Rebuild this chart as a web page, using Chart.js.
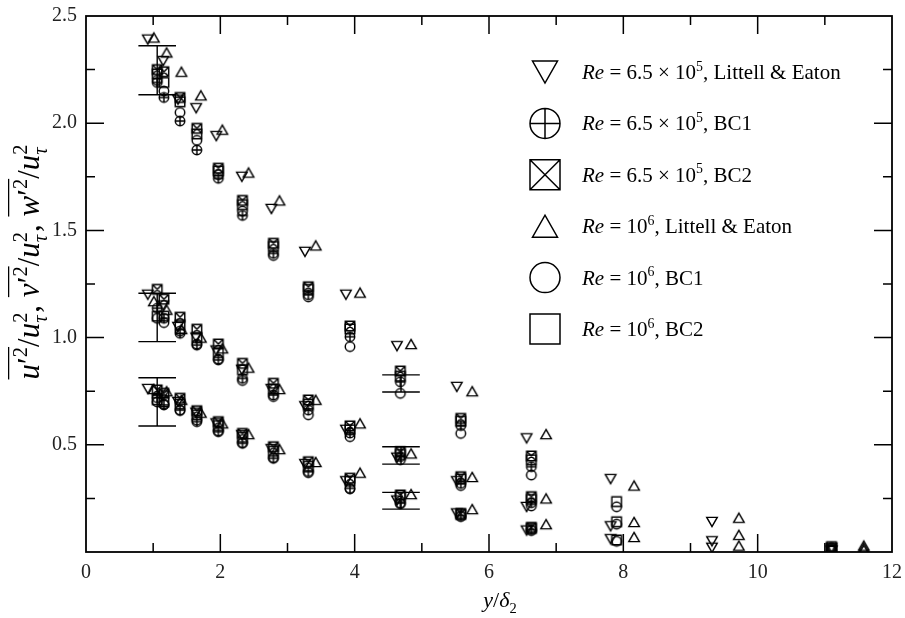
<!DOCTYPE html>
<html>
<head>
<meta charset="utf-8">
<script src="https://cdn.jsdelivr.net/npm/chart.js@4"></script>
<style>
  body { margin: 0; background: #fff; }
  #wrap { width: 905px; height: 618px; }
</style>
</head>
<body>
<div id="wrap"><canvas id="chart"></canvas></div>
<script>
// Littell & Eaton, Re = 6.5e5 (down triangles)
const xLE65 = [0.92, 1.15, 1.37, 1.64, 1.94, 2.32, 2.76, 3.26, 3.87, 4.63, 5.52, 6.56, 7.81, 9.32, 11.10];
const uLE65 = [2.39, 2.29, 2.11, 2.07, 1.94, 1.75, 1.60, 1.40, 1.20, 0.96, 0.77, 0.53, 0.34, 0.14, 0.02];
const vLE65 = [1.20, 1.15, 1.05, 1.00, 0.94, 0.85, 0.76, 0.68, 0.57, 0.44, 0.33, 0.21, 0.12, 0.05, 0.01];
const wLE65 = [0.76, 0.73, 0.70, 0.65, 0.60, 0.545, 0.48, 0.41, 0.33, 0.24, 0.18, 0.10, 0.06, 0.02, 0.005];

// Littell & Eaton, Re = 1e6 (up triangles)
const xLE10 = [1.01, 1.20, 1.42, 1.71, 2.03, 2.42, 2.88, 3.42, 4.08, 4.84, 5.75, 6.85, 8.16, 9.72, 11.58];
const uLE10 = [2.40, 2.33, 2.24, 2.13, 1.97, 1.77, 1.64, 1.43, 1.21, 0.97, 0.75, 0.55, 0.31, 0.16, 0.03];
const vLE10 = [1.17, 1.13, 1.04, 1.00, 0.95, 0.86, 0.76, 0.71, 0.60, 0.46, 0.35, 0.25, 0.14, 0.08, 0.02];
const wLE10 = [0.76, 0.75, 0.71, 0.65, 0.60, 0.55, 0.48, 0.42, 0.37, 0.27, 0.20, 0.13, 0.07, 0.03, 0.01];

// BC runs, Re = 6.5e5
const xBC65 = [1.06, 1.16, 1.40, 1.65, 1.97, 2.33, 2.79, 3.31, 3.93, 4.68, 5.58, 6.63];
const uBC1_65 = [2.19, 2.12, 2.01, 1.875, 1.743, 1.57, 1.393, 1.20, 1.004, 0.794, 0.59, 0.398];
const vBC1_65 = [1.137, 1.09, 1.02, 0.965, 0.896, 0.81, 0.732, 0.662, 0.555, 0.445, 0.32, 0.23];
const wBC1_65 = [0.72, 0.686, 0.662, 0.608, 0.561, 0.507, 0.437, 0.375, 0.297, 0.228, 0.17, 0.105];
const uBC2_65 = [2.25, 2.24, 2.12, 1.976, 1.79, 1.64, 1.44, 1.237, 1.054, 0.844, 0.623, 0.448];
const vBC2_65 = [1.225, 1.179, 1.095, 1.039, 0.970, 0.88, 0.787, 0.709, 0.588, 0.468, 0.351, 0.258];
const wBC2_65 = [0.756, 0.74, 0.717, 0.659, 0.608, 0.553, 0.491, 0.421, 0.344, 0.266, 0.18, 0.115];

// BC runs, Re = 1e6
const xBC10 = [1.06, 1.16, 1.40, 1.65, 1.97, 2.33, 2.79, 3.31, 3.93, 4.68, 5.58, 6.63, 7.90, 11.10];
const uBC1_10 = [2.20, 2.15, 2.05, 1.92, 1.76, 1.59, 1.383, 1.19, 0.958, 0.74, 0.553, 0.359, 0.211, 0.02];
const vBC1_10 = [1.09, 1.07, 1.03, 0.97, 0.90, 0.80, 0.725, 0.64, 0.538, 0.43, 0.31, 0.215, 0.13, 0.01];
const wBC1_10 = [0.70, 0.69, 0.66, 0.615, 0.565, 0.51, 0.44, 0.37, 0.295, 0.225, 0.165, 0.10, 0.05, 0.005];
const uBC2_10 = [2.23, 2.19, 2.10, 1.95, 1.777, 1.62, 1.425, 1.225, 1.04, 0.82, 0.61, 0.43, 0.235, 0.025];
const vBC2_10 = [1.10, 1.10, 1.06, 1.00, 0.93, 0.85, 0.76, 0.69, 0.57, 0.455, 0.34, 0.245, 0.141, 0.015];
const wBC2_10 = [0.71, 0.70, 0.69, 0.64, 0.59, 0.535, 0.47, 0.40, 0.33, 0.255, 0.175, 0.11, 0.056, 0.008];

// error bars
const errAt = [1.06, 1.06, 1.06, 4.69, 4.69, 4.69];
const errLow = [2.133, 0.981, 0.588, 0.746, 0.410, 0.200];
const errHigh = [2.361, 1.207, 0.813, 0.826, 0.491, 0.278];

// legend text
const reMant = ["6.5 \u00d7 10", "6.5 \u00d7 10", "6.5 \u00d7 10", "10", "10", "10"];
const reExp = ["5", "5", "5", "6", "6", "6"];
const srcName = ["Littell & Eaton", "BC1", "BC2", "Littell & Eaton", "BC1", "BC2"];
const markers = ["down", "circlePlus", "squareX", "up", "circle", "square"];

const xTicks = [0, 2, 4, 6, 8, 10, 12];
const yTicks = [0.5, 1.0, 1.5, 2.0, 2.5];

const SERIF = '"Liberation Serif", "Times New Roman", serif';

function drawMarker(ctx, kind, cx, cy, s) {
  const r = s / 2;
  ctx.beginPath();
  if (kind === "down" || kind === "up") {
    const h = s * 0.88, d = kind === "down" ? 1 : -1;
    ctx.moveTo(cx - r, cy - d * h / 2);
    ctx.lineTo(cx + r, cy - d * h / 2);
    ctx.lineTo(cx, cy + d * h / 2);
    ctx.closePath();
  } else if (kind === "circle" || kind === "circlePlus") {
    ctx.arc(cx, cy, r, 0, Math.PI * 2);
    if (kind === "circlePlus") {
      ctx.moveTo(cx - r, cy); ctx.lineTo(cx + r, cy);
      ctx.moveTo(cx, cy - r); ctx.lineTo(cx, cy + r);
    }
  } else {
    ctx.rect(cx - r, cy - r, s, s);
    if (kind === "squareX") {
      ctx.moveTo(cx - r, cy - r); ctx.lineTo(cx + r, cy + r);
      ctx.moveTo(cx + r, cy - r); ctx.lineTo(cx - r, cy + r);
    }
  }
  ctx.stroke();
}

function markerImage(kind) {
  const s = kind === "up" || kind === "down" ? 10.5 : 9.5;
  const c = document.createElement("canvas");
  const n = 16;
  c.width = c.height = n;
  const g = c.getContext("2d");
  g.strokeStyle = "#000";
  g.lineWidth = 1.45;
  drawMarker(g, kind, n / 2, n / 2, s);
  return c;
}

// text with italics, super/subscripts and overlines
function rich(ctx, parts, x, y, size, align) {
  const fontFor = p => (p.i ? "italic " : "") + (p.s ? size * 0.66 : size) + "px " + SERIF;
  const lay = [];
  let cx = 0, held = 0;
  parts.forEach(p => {
    ctx.font = fontFor(p);
    const w = ctx.measureText(p.t).width;
    lay.push({ p, x: cx, w });
    if (p.stack) { held = w; } else { cx += Math.max(w, held); held = 0; }
  });
  const x0 = align === "center" ? x - cx / 2 : x;
  ctx.textAlign = "left";
  ctx.textBaseline = "alphabetic";
  let ov = null;
  const flush = () => {
    if (!ov) return;
    ctx.beginPath();
    ctx.lineWidth = 1.3;
    ctx.moveTo(ov[0], y - size * 0.98);
    ctx.lineTo(ov[1], y - size * 0.98);
    ctx.stroke();
    ov = null;
  };
  lay.forEach(({ p, x: px, w }) => {
    ctx.font = fontFor(p);
    const dy = p.s === "sup" ? -size * 0.4 : p.s === "sub" ? size * 0.25 : 0;
    ctx.fillText(p.t, x0 + px, y + dy);
    if (p.ov) {
      if (!ov) ov = [x0 + px, x0 + px + w];
      else ov[1] = x0 + px + w;
    } else flush();
  });
  flush();
}

const pts = (xs, ...ys) => ys.flatMap(col => col.map((v, k) => ({ x: xs[k], y: v })));

const seriesData = [
  pts(xLE65, uLE65, vLE65, wLE65),
  pts(xBC65, uBC1_65, vBC1_65, wBC1_65),
  pts(xBC65, uBC2_65, vBC2_65, wBC2_65),
  pts(xLE10, uLE10, vLE10, wLE10),
  pts(xBC10, uBC1_10, vBC1_10, wBC1_10),
  pts(xBC10, uBC2_10, vBC2_10, wBC2_10)
];

const frame = {
  id: "frame",
  afterDatasetsDraw(chart) {
    const { ctx, scales: { x, y } } = chart;
    ctx.save();
    ctx.strokeStyle = "#000";
    ctx.lineWidth = 1.4;
    errAt.forEach((xv, k) => {
      const px = x.getPixelForValue(xv);
      const lo = y.getPixelForValue(errLow[k]);
      const hi = y.getPixelForValue(errHigh[k]);
      const l = x.getPixelForValue(xv - 0.28), r = x.getPixelForValue(xv + 0.28);
      ctx.beginPath();
      ctx.moveTo(px, lo); ctx.lineTo(px, hi);
      ctx.moveTo(l, lo); ctx.lineTo(r, lo);
      ctx.moveTo(l, hi); ctx.lineTo(r, hi);
      ctx.stroke();
    });
    ctx.restore();
  },
  afterDraw(chart) {
    const { ctx, chartArea: a, scales: { x, y } } = chart;
    ctx.save();
    ctx.strokeStyle = "#000";
    ctx.fillStyle = "#000";

    // box and inward ticks
    ctx.lineWidth = 1.8;
    ctx.strokeRect(a.left, a.top, a.right - a.left, a.bottom - a.top);
    ctx.lineWidth = 1.5;
    ctx.beginPath();
    for (let v = 1; v < 12; v++) {
      const px = x.getPixelForValue(v), len = v % 2 === 0 ? 18 : 9;
      ctx.moveTo(px, a.bottom); ctx.lineTo(px, a.bottom - len);
      ctx.moveTo(px, a.top); ctx.lineTo(px, a.top + len);
    }
    for (let k = 1; k < 10; k++) {
      const py = y.getPixelForValue(k * 0.25), len = k % 2 === 0 ? 18 : 9;
      ctx.moveTo(a.left, py); ctx.lineTo(a.left + len, py);
      ctx.moveTo(a.right, py); ctx.lineTo(a.right - len, py);
    }
    ctx.stroke();

    // legend
    ctx.lineWidth = 1.5;
    markers.forEach((m, k) => {
      const cy = 72 + k * 51.4;
      drawMarker(ctx, m, 545, cy, m === "up" || m === "down" ? 25 : 30);
      rich(ctx, [
        { t: "Re", i: 1 }, { t: " = " }, { t: reMant[k] }, { t: reExp[k], s: "sup" },
        { t: ", " + srcName[k] }
      ], 582, cy + 7, 21, "left");
    });

    // axis titles
    rich(ctx, [{ t: "y", i: 1 }, { t: "/" }, { t: "\u03b4", i: 1 }, { t: "2", s: "sub" }], 500, 607, 22, "center");
    const yParts = [];
    ["u", "v", "w"].forEach((g, k) => {
      if (k) yParts.push({ t: ", " });
      yParts.push({ t: g, i: 1, ov: 1 }, { t: "\u2032", ov: 1 }, { t: "2", s: "sup", ov: 1 },
        { t: "/" }, { t: "u", i: 1 }, { t: "2", s: "sup", stack: 1 }, { t: "\u03c4", s: "sub", i: 1 });
    });
    ctx.translate(39, 262);
    ctx.rotate(-Math.PI / 2);
    rich(ctx, yParts, 0, 0, 31, "center");
    ctx.restore();
  }
};

const ctx = document.getElementById("chart").getContext("2d");
const chart = new Chart(ctx, {
  type: "scatter",
  data: {
    datasets: seriesData.map((d, k) => ({
      label: "Re = " + reMant[k] + "^" + reExp[k] + ", " + srcName[k],
      data: d,
      pointStyle: markerImage(markers[k]),
      showLine: false
    }))
  },
  options: {
    responsive: true,
    maintainAspectRatio: false,
    animation: false,
    events: [],
    layout: { padding: { top: 16, right: 13, left: 0, bottom: 0 } },
    plugins: { legend: { display: false }, tooltip: { enabled: false } },
    scales: {
      x: {
        type: "linear",
        min: 0,
        max: 12,
        afterFit: s => { s.height = 66; s.paddingLeft = 0; s.paddingRight = 0; },
        afterBuildTicks: s => { s.ticks = xTicks.map(v => ({ value: v })); },
        ticks: { font: { family: SERIF, size: 20 }, color: "#222", padding: 9, maxRotation: 0 },
        grid: { display: false, drawTicks: false },
        border: { display: false }
      },
      y: {
        min: 0,
        max: 2.5,
        afterFit: s => { s.width = 86; s.paddingTop = 0; s.paddingBottom = 0; },
        afterBuildTicks: s => { s.ticks = yTicks.map(v => ({ value: v })); },
        ticks: { font: { family: SERIF, size: 20 }, color: "#222", padding: 9, callback: v => v.toFixed(1) },
        grid: { display: false, drawTicks: false },
        border: { display: false }
      }
    }
  },
  plugins: [frame]
});
</script>
</body>
</html>
